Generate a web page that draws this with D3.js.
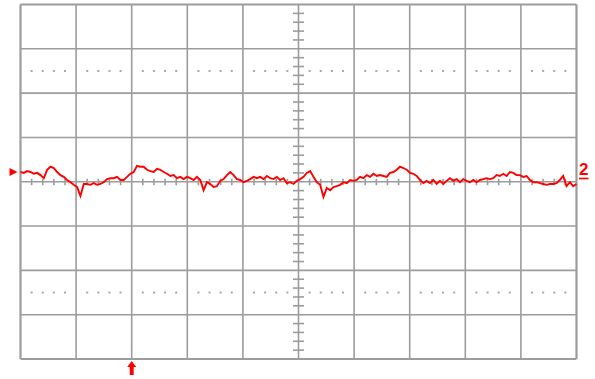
<!DOCTYPE html>
<html><head><meta charset="utf-8">
<script src="https://cdn.jsdelivr.net/npm/d3@7"></script>
<style>html,body{margin:0;padding:0;background:#fff;}svg{display:block;}</style>
</head><body>
<svg id="c" width="595" height="379"></svg>
<script>
// Oscilloscope screen: 10 horizontal x 8 vertical divisions
const hDivs = d3.range(0, 11);          // vertical grid lines (time divisions)
const vDivs = d3.range(-4, 5);          // horizontal grid lines (voltage divisions)
const dotRows = [2.5, -2.5];            // rows of dotted graticule marks (divisions)
const minorFractions = [0.2, 0.4, 0.6, 0.8];
const voltsPerDiv = 10;                 // trace units per division
const triggerTime = 2;                  // trigger position (divisions)
const channelLevel = 2.2;               // channel 2 marker level (trace units)
const channelLabel = "2";
// Channel 2 trace (units; 10 units per division), uniformly sampled across 10 divisions
const trace = [
  2.2,2.0,2.4,2.2,1.8,2.0,1.5,0.8,2.7,3.4,3.1,2.2,1.5,1.1,0.4,-0.1,-0.7,-1.2,-3.2,-0.5,
  -0.5,-0.7,-0.3,-0.7,-0.5,-0.1,0.6,0.8,0.8,1.1,0.4,0.4,1.1,1.8,2.2,3.6,3.4,3.4,2.7,2.4,
  2.2,2.9,2.7,2.2,1.8,1.3,1.5,0.8,1.1,0.6,1.1,0.8,0.4,1.1,0.4,-1.9,-0.1,-0.5,-1.2,-1.0,
  0.2,0.6,1.5,2.2,1.5,0.6,0.4,-0.1,0.2,0.6,1.1,0.8,1.1,0.6,1.3,0.8,0.6,1.1,0.4,0.8,
  -0.3,-0.1,-0.5,0.2,0.6,1.1,2.0,2.4,1.1,-0.1,-0.7,-3.4,-1.4,-1.9,-1.2,-1.0,-0.7,-0.1,-0.3,0.4,
  0.2,0.4,1.1,0.8,1.5,1.1,1.8,1.3,1.5,1.3,1.1,2.0,2.2,2.7,3.4,3.1,2.7,2.0,1.8,1.3,
  0.4,-0.3,0.2,-0.3,0.4,-0.5,0.2,-0.5,0.2,0.8,0.2,0.6,-0.1,0.6,0.2,-0.1,0.4,-0.1,0.4,0.6,
  0.8,0.6,0.8,1.5,1.3,1.8,1.3,2.2,2.0,1.5,1.5,1.1,1.3,0.4,-0.1,-0.1,-0.3,-0.5,-0.7,-0.5,
  -0.5,-0.3,0.4,1.3,-1.0,-0.1,-1.0,-0.5
];

const svg = d3.select("#c");
const x = d3.scaleLinear().domain([0, 10]).range([20.5, 576.5]);
const y = d3.scaleLinear().domain([-4, 4]).range([359, 4.5]);
const yv = d3.scaleLinear().domain([-4 * voltsPerDiv, 4 * voltsPerDiv]).range([359, 4.5]);
const grid = "#9c9c9c";

const g = svg.append("g");
// grid lines
g.selectAll("line.v").data(hDivs).join("line")
  .attr("x1", d => x(d)).attr("x2", d => x(d))
  .attr("y1", y(4)).attr("y2", y(-4))
  .attr("stroke", grid).attr("stroke-width", d => (d === 0 || d === 10) ? 2.2 : 1.6);
g.selectAll("line.h").data(vDivs).join("line")
  .attr("x1", x(0)).attr("x2", x(10))
  .attr("y1", d => y(d)).attr("y2", d => y(d))
  .attr("stroke", grid).attr("stroke-width", d => (d === -4 || d === 4) ? 2.2 : 1.6);

// dotted graticule rows
const dots = [];
dotRows.forEach(r => d3.range(0, 10).forEach(dv => minorFractions.forEach(f => dots.push([dv + f, r]))));
g.selectAll("rect.dot").data(dots).join("rect")
  .attr("x", d => x(d[0]) - 1).attr("y", d => y(d[1]) - 1)
  .attr("width", 2).attr("height", 2).attr("fill", "#a8a8a8");

// center axis minor ticks
const hTicks = [];
d3.range(0, 10).forEach(dv => minorFractions.forEach(f => hTicks.push(dv + f)));
g.selectAll("line.ht").data(hTicks).join("line")
  .attr("x1", d => x(d)).attr("x2", d => x(d))
  .attr("y1", y(0) - 3).attr("y2", y(0) + 3.5)
  .attr("stroke", grid).attr("stroke-width", 1.6);
const vTicks = [];
d3.range(-4, 4).forEach(dv => minorFractions.forEach(f => vTicks.push(dv + f)));
g.selectAll("line.vt").data(vTicks).join("line")
  .attr("x1", x(5) - 5.5).attr("x2", x(5) + 5.5)
  .attr("y1", d => y(d)).attr("y2", d => y(d))
  .attr("stroke", grid).attr("stroke-width", 1.6);

// trace
const red = "#ff0000";
const line = d3.line()
  .x((d, i) => x(i * 10 / (trace.length - 1)))
  .y(d => yv(d));
svg.append("path").datum(trace).attr("d", line)
  .attr("fill", "none").attr("stroke", red).attr("stroke-width", 1.9)
  .attr("stroke-linejoin", "miter");

// left level marker (triangle)
const ly = yv(channelLevel);
svg.append("path")
  .attr("d", `M${x(0) - 11},${ly - 4} L${x(0) - 3},${ly} L${x(0) - 11},${ly + 4} Z`)
  .attr("fill", red);

// right channel label
svg.append("text").attr("x", x(10) + 2.5).attr("y", yv(channelLevel) + 3)
  .attr("font-family", "Liberation Sans, Arial, sans-serif").attr("font-weight", "bold")
  .attr("font-size", 17).attr("fill", red).text(channelLabel);
svg.append("line").attr("x1", x(10) + 2.5).attr("x2", x(10) + 12)
  .attr("y1", yv(channelLevel) + 6.5).attr("y2", yv(channelLevel) + 6.5)
  .attr("stroke", red).attr("stroke-width", 1.6);

// trigger marker (up arrow) below the screen
const tx = x(triggerTime);
svg.append("path")
  .attr("d", `M${tx},${y(-4) + 2} L${tx + 4.5},${y(-4) + 8} L${tx + 2},${y(-4) + 8} L${tx + 2},${y(-4) + 16} L${tx - 2},${y(-4) + 16} L${tx - 2},${y(-4) + 8} L${tx - 4.5},${y(-4) + 8} Z`)
  .attr("fill", red);
</script>
</body></html>
